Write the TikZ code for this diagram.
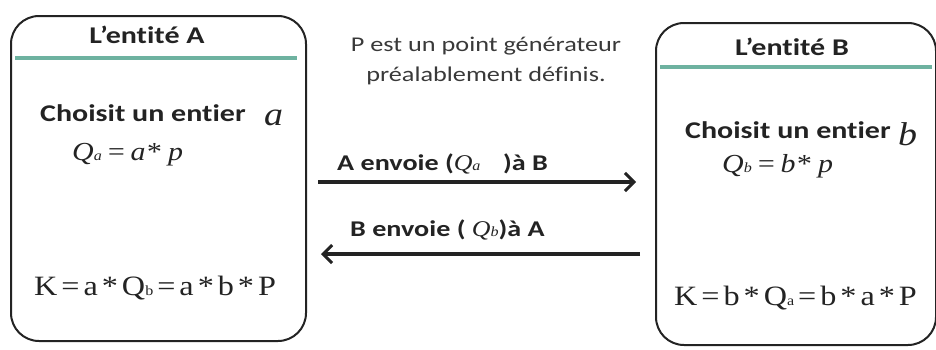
\documentclass[tikz,border=0pt]{standalone}
\usepackage{fontspec}
\setmainfont{Carlito}[FakeStretch=1.25,Ligatures=NoCommon]
\newfontfamily\serifm{Liberation Serif}[FakeStretch=1.15]
\usetikzlibrary{arrows.meta}
\definecolor{tealline}{RGB}{110,178,160}
\definecolor{ink}{RGB}{35,35,35}
\tikzset{
  entbox/.style={draw=ink, line width=2pt, rounded corners=28pt},
  hdr/.style={draw=tealline, line width=3.5pt},
  lbl/.style={font=\fontsize{24}{26}\selectfont\bfseries, text=ink, inner sep=0pt},
  txt/.style={font=\fontsize{24}{26}\selectfont\bfseries, text=ink, inner sep=0pt},
  mtx/.style={font=\fontsize{22.5}{24}\selectfont\bfseries, text=ink, inner sep=0pt},
  eq/.style={font=\serifm\fontsize{26}{28}\selectfont, text=ink, inner sep=0pt},
  keq/.style={font=\serifm\fontsize{28}{30}\selectfont, text=ink, inner sep=0pt},
  big/.style={font=\serifm\itshape\fontsize{33}{33}\selectfont, text=ink, inner sep=0pt},
  note/.style={font=\fontsize{21}{30}\selectfont, text=ink!90, align=center, inner sep=0pt},
  msg/.style={draw=ink, line width=3.5pt, -{Straight Barb[length=9pt,width=18pt,line width=3pt]}},
}
\newcommand{\sbs}[1]{{\fontsize{14}{14}\selectfont #1}}
\newcommand{\op}[1]{\kern4pt#1\kern4pt}
\begin{document}
\begin{tikzpicture}[x=1pt,y=-1pt]
\useasboundingbox (0,0) rectangle (936,349);
% boxes
\node[entbox, minimum width=295pt, minimum height=325pt, anchor=north west] (boxA) at (10,15) {};
\node[entbox, minimum width=280pt, minimum height=322pt, anchor=north west] (boxB) at (655,22) {};
\coordinate (hA1) at (15,58); \coordinate (hA2) at (297,58);
\draw[hdr] (hA1) -- (hA2);
\coordinate (hB1) at (660,67); \coordinate (hB2) at (932,67);
\draw[hdr] (hB1) -- (hB2);
% headers
\node[lbl] (tA) at (147,35) {L’entité A};
\node[lbl] (tB) at (792,47) {L’entité B};
% texts A
\node[txt, anchor=west] (cA) at (40,113) {Choisit un entier};
\node[big, anchor=west] (aA) at (264,118) {a};
\node[eq, anchor=west] (qA) at (72,155) {\itshape Q\sbs{a}\,=\,a* p};
\node[keq, anchor=west] (kA) at (34,288) {K\op{=}a\op{*}Q\sbs{b}\op{=}a\op{*}b\op{*}P};
% texts B
\node[txt, anchor=west] (cB) at (685,130) {Choisit un entier};
\node[big, anchor=west] (bB) at (898,134) {b};
\node[eq, anchor=west] (qB) at (722,166) {\itshape Q\sbs{b}\,=\,b* p};
\node[keq, anchor=west] (kB) at (674,298) {K\op{=}b\op{*}Q\sbs{a}\op{=}b\op{*}a\op{*}P};
% note
\node[note] (nt) at (486,61) {P est un point générateur\\préalablement définis.};
% arrows
\coordinate (a1s) at (318,182); \coordinate (a1e) at (636,182);
\coordinate (a2s) at (640,254); \coordinate (a2e) at (321,254);
\draw[msg] (a1s) -- (a1e);
\draw[msg] (a2s) -- (a2e);
\node[mtx, anchor=west] (m1) at (337,164) {A envoie ({\serifm\itshape\mdseries Q\sbs{a}}\quad)à B};
\node[mtx, anchor=west] (m2) at (350,230) {B envoie ( {\serifm\itshape\mdseries Q\sbs{b}})à A};
\end{tikzpicture}
\end{document}
